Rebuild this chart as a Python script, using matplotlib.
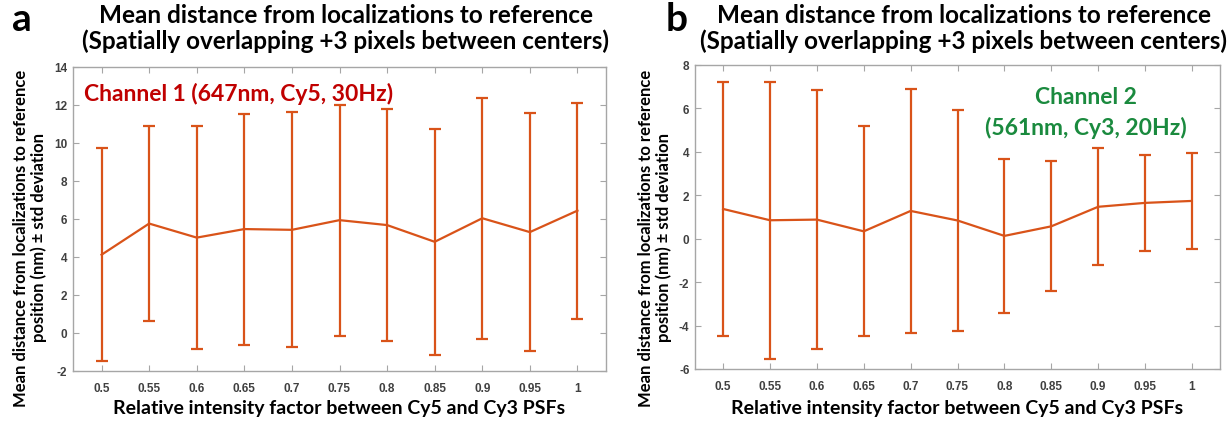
import numpy as np
import matplotlib
matplotlib.use("Agg")
import matplotlib.pyplot as plt

# intensity factors on the x axis
factors = [0.5, 0.55, 0.6, 0.65, 0.7, 0.75, 0.8, 0.85, 0.9, 0.95, 1.0]
tick_labels = ["0.5", "0.55", "0.6", "0.65", "0.7", "0.75", "0.8", "0.85", "0.9", "0.95", "1"]

# channel 1 (Cy5) mean distance and std (nm)
ch1_mean = [4.12, 5.76, 5.02, 5.47, 5.43, 5.94, 5.68, 4.80, 6.04, 5.31, 6.44]
ch1_std = [5.60, 5.13, 5.85, 6.08, 6.18, 6.08, 6.09, 5.94, 6.35, 6.26, 5.69]

# channel 2 (Cy3) mean distance and std (nm)
ch2_mean = [1.37, 0.85, 0.88, 0.34, 1.28, 0.84, 0.13, 0.57, 1.47, 1.65, 1.74]
ch2_std = [5.86, 6.38, 5.97, 4.83, 5.63, 5.10, 3.56, 3.00, 2.70, 2.20, 2.20]

title = "Mean distance from localizations to reference\n(Spatially overlapping +3 pixels between centers)"
ylabel = "Mean distance from localizations to reference\nposition (nm) \u00b1 std deviation"
xlabel = "Relative intensity factor between Cy5 and Cy3 PSFs"

line_color = "#D95319"
spine_color = "#A6A6A6"
tick_color = "#404040"

W, H = 1228, 427
fig = plt.figure(figsize=(W / 100, H / 100), dpi=100)

# axes rectangles in pixels: left, right, top, bottom
boxes = [(73, 606, 68, 372), (695, 1220, 66, 370)]
ylabel_x = [30, 655]


def px_rect(l, r, t, b):
    return [l / W, 1 - b / H, (r - l) / W, (b - t) / H]


def style_axes(ax, ylim, yticks):
    ax.set_xlim(0.47, 1.03)
    ax.set_ylim(*ylim)
    ax.set_xticks(factors)
    ax.set_xticklabels(tick_labels)
    ax.set_yticks(yticks)
    ax.set_yticklabels([str(v) for v in yticks])
    for s in ax.spines.values():
        s.set_color(spine_color)
        s.set_linewidth(1.0)
    ax.tick_params(direction="in", length=4, color=spine_color, top=True, right=True,
                   labelcolor=tick_color, labelsize=8.5)
    ax.tick_params(axis="x", pad=8)
    ax.tick_params(axis="y", pad=4)
    for lab in ax.get_xticklabels() + ax.get_yticklabels():
        lab.set_fontweight("bold")
        lab.set_family("Liberation Sans")


panels = [
    (ch1_mean, ch1_std, (-2, 14), list(range(-2, 15, 2))),
    (ch2_mean, ch2_std, (-6, 8), list(range(-6, 9, 2))),
]

axes = []
for (mean, std, ylim, yticks), box, yx in zip(panels, boxes, ylabel_x):
    ax = fig.add_axes(px_rect(*box))
    ax.errorbar(factors, mean, yerr=std, color=line_color, lw=1.6, elinewidth=1.6,
                capsize=4, capthick=1.6)
    style_axes(ax, ylim, yticks)
    axes.append(ax)

    cx = (box[0] + box[1]) / 2 / W
    fig.text(cx + 0.005, 1 - 4 / H, title, ha="center", va="top", fontsize=17.5,
             fontweight="bold", family="Lato", linespacing=1.1)
    fig.text(cx, 1 - 400 / H, xlabel, ha="center", va="top", fontsize=14,
             fontweight="bold", family="Lato")
    fig.text(yx / W, 1 - 238 / H, ylabel, ha="center", va="center", rotation=90,
             multialignment="center", fontsize=12, fontweight="bold", family="Lato",
             linespacing=1.15)

fig.text(12 / W, 1 - 2 / H, "a", ha="left", va="top", fontsize=28, fontweight="bold", family="Lato")
fig.text(666 / W, 1 - 2 / H, "b", ha="left", va="top", fontsize=28, fontweight="bold", family="Lato")

axes[0].text(0.02, 0.95, "Channel 1 (647nm, Cy5, 30Hz)", transform=axes[0].transAxes,
             ha="left", va="top", color="#C00000", fontsize=16.5, fontweight="bold", family="Lato")
axes[1].text(0.745, 0.93, "Channel 2\n(561nm, Cy3, 20Hz)", transform=axes[1].transAxes,
             ha="center", va="top", color="#1A8A3E", fontsize=16.5, fontweight="bold",
             family="Lato", linespacing=1.5)

fig.savefig("out.png", dpi=100, facecolor="white")
